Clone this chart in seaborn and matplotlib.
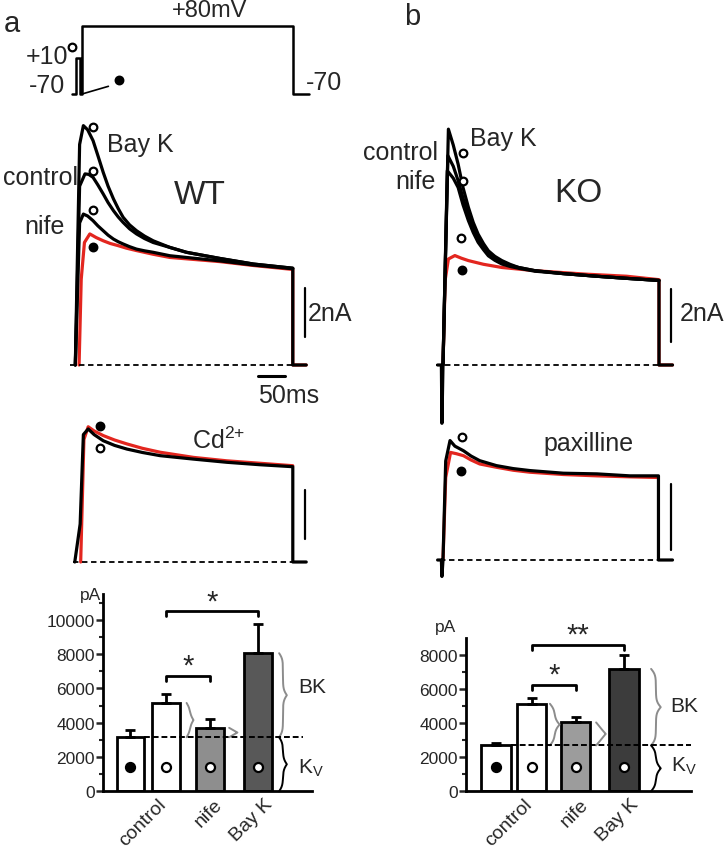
import numpy as np
import pandas as pd
import matplotlib.pyplot as plt
import seaborn as sns

# voltage protocol (ms, mV)
prot_t = [-19, -11, -11, -4, -4, 0, 0, 400, 400, 430]
prot_v = [-70, -70, 10, 10, -70, -70, 80, 80, -70, -70]

# WT traces (ms, nA)
wt_bayk_t = [-5, 3, 10, 18, 28, 37, 47, 56, 66, 75, 84, 96, 109, 124, 140, 171, 202, 264, 327, 400, 400, 425]
wt_bayk_i = [0, 9.0, 9.77, 9.6, 9.16, 8.55, 7.86, 7.3, 6.78, 6.38, 6.03, 5.72, 5.48, 5.26, 5.07, 4.8, 4.6, 4.35, 4.12, 3.95, 0, 0]
wt_ctrl_t = [-5, 3, 13, 20, 28, 37, 47, 56, 66, 75, 84, 96, 109, 124, 140, 171, 202, 264, 327, 400]
wt_ctrl_i = [0, 7.3, 7.8, 7.78, 7.66, 7.35, 6.98, 6.63, 6.3, 6.04, 5.82, 5.56, 5.35, 5.16, 5.0, 4.8, 4.6, 4.35, 4.12, 3.95]
wt_nife_t = [-5, 3, 10, 18, 28, 37, 47, 56, 66, 75, 84, 96, 109, 124, 140, 171, 202, 264, 327, 400]
wt_nife_i = [0, 5.8, 6.16, 6.08, 5.89, 5.68, 5.48, 5.3, 5.14, 5.03, 4.94, 4.83, 4.73, 4.66, 4.6, 4.46, 4.39, 4.25, 4.08, 3.93]
wt_red_t = [2, 6, 12, 22, 34, 47, 60, 75, 90, 109, 140, 171, 264, 327, 400, 400, 425]
wt_red_i = [0, 3.5, 5.0, 5.35, 5.2, 5.07, 4.96, 4.87, 4.77, 4.67, 4.52, 4.39, 4.22, 4.06, 3.9, 0, 0]

# KO traces (ms, nA)
ko_bayk_t = [-10, -3, -2, 0, 10, 19, 28, 37, 47, 56, 65, 75, 84, 96, 109, 124, 140, 170, 222, 284, 340, 400, 400, 425]
ko_bayk_i = [0, 0, -2.2, 0, 8.9, 8.3, 7.58, 6.7, 5.95, 5.38, 4.94, 4.58, 4.31, 4.1, 3.94, 3.8, 3.68, 3.56, 3.45, 3.35, 3.27, 3.19, 0, 0]
ko_ctrl_t = [0, 9, 19, 28, 37, 47, 56, 65, 75, 84, 96, 109, 124, 140, 170, 222, 284, 340, 400]
ko_ctrl_i = [0, 7.9, 7.5, 6.96, 6.3, 5.7, 5.2, 4.82, 4.48, 4.19, 4.0, 3.87, 3.76, 3.68, 3.56, 3.45, 3.35, 3.27, 3.19]
ko_nife_t = [0, 8, 19, 28, 37, 47, 56, 65, 75, 84, 96, 109, 124, 140, 170, 222, 284, 340, 400]
ko_nife_i = [0, 7.33, 7.05, 6.7, 6.05, 5.45, 5.0, 4.63, 4.35, 4.12, 3.95, 3.81, 3.72, 3.65, 3.54, 3.45, 3.35, 3.27, 3.19]
ko_red_t = [0, 4, 10, 22, 34, 47, 75, 109, 170, 263, 340, 400, 400, 425]
ko_red_i = [0, 3.2, 4.0, 4.13, 4.03, 3.94, 3.8, 3.68, 3.56, 3.43, 3.35, 3.22, 0, 0]

# Cd2+ (WT) and paxilline (KO) traces
cd_blk_t = [-6, 4, 10, 19, 30, 47, 68, 91, 120, 153, 215, 277, 339, 400, 400, 425]
cd_blk_i = [0, 1.55, 5.2, 5.43, 5.2, 4.95, 4.76, 4.61, 4.47, 4.34, 4.2, 4.07, 3.97, 3.89, 0, 0]
cd_red_t = [5, 11, 19, 30, 47, 68, 91, 120, 153, 215, 277, 339, 400]
cd_red_i = [0, 5.0, 5.52, 5.35, 5.16, 4.98, 4.82, 4.64, 4.48, 4.27, 4.13, 4.03, 3.93]
pax_blk_t = [-10, -3, -2, 0, 5, 13, 22, 38, 52, 68, 99, 130, 161, 223, 285, 346, 399, 399, 425]
pax_blk_i = [0, 0, -0.5, 0, 3.0, 3.62, 3.45, 3.31, 3.15, 3.01, 2.86, 2.77, 2.71, 2.63, 2.61, 2.55, 2.55, 0, 0]
pax_red_t = [0, 5, 14, 25, 38, 52, 68, 99, 130, 161, 223, 285, 346, 399]
pax_red_i = [0, 2.5, 3.26, 3.22, 3.16, 3.03, 2.91, 2.81, 2.72, 2.66, 2.59, 2.55, 2.52, 2.5]

# summary bars (pA)
tick_labels = ['control', 'nife', 'Bay K']
wt_mean = [3150, 5150, 3700, 8050]
wt_sem = [420, 520, 520, 1700]
ko_mean = [2700, 5150, 4050, 7200]
ko_sem = [150, 350, 330, 800]

sns.set_theme(style='white')
plt.rcParams['font.family'] = ['Liberation Sans', 'DejaVu Sans']
plt.rcParams['mathtext.fontset'] = 'custom'
plt.rcParams['mathtext.rm'] = 'Liberation Sans'
plt.rcParams['mathtext.it'] = 'Liberation Sans:italic'

W, H = 726, 853
fig = plt.figure(figsize=(W / 100, H / 100), dpi=100)
RED = '#e3261f'
GRAY = '#8c8c8c'


def px_axes(l, r, t, b):
    ax = fig.add_axes([l / W, 1 - b / H, (r - l) / W, (b - t) / H])
    ax.patch.set_alpha(0)
    return ax


def calib(ax, box, x0, pxx, y0, pxy):
    l, r, t, b = box
    ax.set_xlim((l - x0) / pxx, (r - x0) / pxx)
    ax.set_ylim((y0 - b) / pxy, (y0 - t) / pxy)
    ax.axis('off')


def ftext(x, y, s, size=18, **kw):
    fig.text(x / W, 1 - y / H, s, fontsize=size, va='center', **kw)


def trace(ax, t, i, color='black', lw=2.3):
    sns.lineplot(x=t, y=i, color=color, lw=lw, sort=False, estimator=None, ax=ax)


def dots(ax, t, i, filled):
    ax.plot(t, i, 'o', ms=5.5, mew=1.6, mec='black',
            mfc='black' if filled else 'white', zorder=5, clip_on=False)


# ---- voltage protocol ----
box = (40, 360, 0, 110)
ax = px_axes(*box)
sns.lineplot(x=prot_t, y=prot_v, color='black', lw=1.8, sort=False, estimator=None, ax=ax)
ax.plot([0, 50], [-70, -53], color='black', lw=1.2)
dots(ax, [-19.5], [33], False)
dots(ax, [70.6], [-39], True)
calib(ax, box, 82, 0.528, 63.3, 0.453)
ftext(210, 11, '+80mV', size=17, ha='center')
ftext(68, 57, '+10', ha='right')
ftext(65, 86, '-70', ha='right')
ftext(306, 83, '-70', ha='left')

# ---- WT traces ----
box = (40, 360, 112, 400)
ax = px_axes(*box)
trace(ax, wt_red_t, wt_red_i, RED)
for t, i in [(wt_nife_t, wt_nife_i), (wt_ctrl_t, wt_ctrl_i), (wt_bayk_t, wt_bayk_i)]:
    trace(ax, t, i)
ax.plot([-15, 423], [0, 0], color='black', lw=1.3, ls=(0, (3, 2)))
ax.plot([423, 423], [1.14, 3.14], color='black', lw=1.6)
ax.plot([335, 385], [-0.44, -0.44], color='black', lw=2.2)
dots(ax, [28.5, 28.5, 28.5], [9.7, 7.93, 6.34], False)
dots(ax, [28.5], [4.8], True)
calib(ax, box, 78, 0.537, 366, 24.5)
ftext(78, 178, 'control', ha='right')
ftext(65, 227, 'nife', ha='right')
ftext(107, 145, 'Bay K', ha='left')
ftext(200, 195, 'WT', size=24, ha='center')
ftext(308, 314, '2nA', ha='left')
ftext(258, 396, '50ms', ha='left')

# ---- KO traces ----
box = (400, 726, 112, 440)
ax = px_axes(*box)
trace(ax, ko_red_t, ko_red_i, RED)
for t, i in [(ko_nife_t, ko_nife_i), (ko_ctrl_t, ko_ctrl_i), (ko_bayk_t, ko_bayk_i)]:
    trace(ax, t, i)
ax.plot([-13.5, 422], [0, 0], color='black', lw=1.3, ls=(0, (3, 2)))
ax.plot([422, 422], [0.87, 2.87], color='black', lw=1.6)
dots(ax, [37.6, 37.6, 33.3], [7.99, 6.95, 4.8], False)
dots(ax, [35], [3.58], True)
calib(ax, box, 443, 0.54, 366, 26.5)
ftext(438, 153, 'control', ha='right')
ftext(436, 182, 'nife', ha='right')
ftext(470, 139, 'Bay K', ha='left')
ftext(578, 194, 'KO', size=24, ha='center')
ftext(680, 314, '2nA', ha='left')

# ---- Cd2+ ----
box = (40, 360, 415, 580)
ax = px_axes(*box)
trace(ax, cd_red_t, cd_red_i, RED)
trace(ax, cd_blk_t, cd_blk_i)
ax.plot([-9, 423], [0, 0], color='black', lw=1.3, ls=(0, (3, 2)))
ax.plot([423, 423], [0.94, 2.94], color='black', lw=1.6)
dots(ax, [41], [5.56], True)
dots(ax, [41], [4.65], False)
calib(ax, box, 78, 0.537, 563, 24.5)
ftext(192, 441, 'Cd$^{2{+}}$', ha='left')

# ---- paxilline ----
box = (400, 726, 415, 585)
ax = px_axes(*box)
trace(ax, pax_red_t, pax_red_i, RED)
trace(ax, pax_blk_t, pax_blk_i)
ax.plot([-5.5, 420], [0, 0], color='black', lw=1.3, ls=(0, (3, 2)))
ax.plot([421.7, 421.7], [0.3, 2.3], color='black', lw=1.6)
dots(ax, [34.6], [3.72], False)
dots(ax, [32.7], [2.71], True)
calib(ax, box, 443, 0.54, 561, 33)
ftext(543, 444, 'paxilline', ha='left')


# ---- bar charts ----
def brace(ax, x, y0, y1, w, color, beta):
    s = np.linspace(0, 0.5, 120)
    half = 1 / (1 + np.exp(-beta * (s - s[0]))) + 1 / (1 + np.exp(-beta * (s - s[-1])))
    shape = np.concatenate([half, half[::-1]])
    shape = (shape - shape.min()) / (shape.max() - shape.min())
    ys = y0 + (y1 - y0) * np.concatenate([s, s + 0.5])
    ax.plot(x + w * shape, ys, color=color, lw=1.4, clip_on=False)


def bracket(ax, x0, x1, y, drop, label, ly):
    ax.plot([x0, x0, x1, x1], [y - drop, y, y, y - drop], color='black', lw=2, clip_on=False)
    ax.text((x0 + x1) / 2, ly, label, ha='center', va='center', fontsize=21)


def bar_panel(box, c0, unit, top, mean, sem, colors, major, braces, sigs, bk_y, kv_y, pa_y, bw):
    ax = px_axes(*box)
    pos = [0, 1.3, 2.9, 4.65]
    df = pd.DataFrame({'pos': pos, 'pA': mean})
    sns.barplot(data=df, x='pos', y='pA', native_scale=True, width=bw / 1.3,
                errorbar=None, edgecolor='black', linewidth=2, ax=ax)
    for p, c in zip(ax.patches, colors):
        p.set_facecolor(c)
    ax.errorbar(pos, mean, yerr=[np.zeros(4), sem], fmt='none', ecolor='black',
                elinewidth=2, capsize=3.5, capthick=2, zorder=4)
    ax.plot([pos[0] + bw / 2, 6.3 if top > 10000 else 7.1], [mean[0], mean[0]],
            color='black', lw=1.4, ls=(0, (3, 1.5)), zorder=3, clip_on=False)
    for i, filled in enumerate([True, False, False, False]):
        ax.plot(pos[i], 1420, 'o', ms=6.5, mew=1.6, mec='black',
                mfc='black' if filled else 'white', zorder=5)
    vpp = top / (box[3] - box[2])
    for x, y0, y1, w, col in braces:
        brace(ax, x, y0, y1, w, col, max(6, (y1 - y0) / vpp / 3))
    for x0, x1, y, label, ly in sigs:
        bracket(ax, pos[x0], pos[x1], y, 17 * vpp / 3 * 0.9, label, ly)
    ax.text(6.1 if top > 10000 else 6.33, bk_y, 'BK', fontsize=15, va='center')
    ax.text(6.1 if top > 10000 else 6.36, kv_y, 'K$_\\mathrm{V}$', fontsize=15, va='center')
    ax.text(-1.43 if top > 10000 else -1.82, pa_y, 'pA', fontsize=12.5, ha='center', va='center')
    ax.set_xlim((box[0] - c0) / unit, (box[1] - c0) / unit)
    ax.set_ylim(0, top)
    ax.set_yticks(major)
    ax.set_yticks(np.arange(1000, top, 2000), minor=True)
    ax.set_yticklabels([str(v) for v in major], fontsize=12.5)
    ax.set_xticks([1.0, 3.05, 4.85])
    ax.set_xticklabels(tick_labels, rotation=45, ha='right', rotation_mode='anchor', fontsize=14)
    ax.tick_params(axis='y', which='major', direction='out', length=5, width=1.8, pad=1, left=True)
    ax.tick_params(axis='y', which='minor', direction='out', length=3, width=1.5, left=True)
    ax.tick_params(axis='x', length=0, pad=3)
    ax.set_xlabel('')
    ax.set_ylabel('')
    sns.despine(ax=ax)
    for s in ['left', 'bottom']:
        ax.spines[s].set_linewidth(2)
        ax.spines[s].set_color('black')
    return ax


bar_panel((103.3, 312, 595, 792.3), 130.3, 27.46, 11500, wt_mean, wt_sem,
          ['white', 'white', '#8e8e8e', '#585858'], list(range(0, 10001, 2000)),
          [(2.05, 3150, 5150, 0.25, GRAY), (3.6, 3150, 3700, 0.3, GRAY),
           (5.42, 3150, 8050, 0.28, GRAY), (5.42, 0, 3150, 0.28, 'black')],
          [(1, 2, 6740, '*', 7300), (1, 3, 10490, '*', 11050)],
          6080, 1415, 11450, 1.0)

bar_panel((466.3, 691, 639.3, 792.3), 496, 27.5, 9000, ko_mean, ko_sem,
          ['white', 'white', '#9c9c9c', '#3c3c3c'], list(range(0, 8001, 2000)),
          [(1.96, 2700, 5150, 0.35, GRAY), (3.64, 2700, 4050, 0.35, GRAY),
           (5.64, 2700, 7200, 0.35, GRAY), (5.64, 0, 2700, 0.35, 'black')],
          [(1, 2, 6240, '*', 6850), (1, 3, 8590, '**', 9200)],
          5025, 1500, 9720, 1.07)

ftext(12, 24, 'a', size=21, ha='center')
ftext(412, 17, 'b', size=21, ha='center')

fig.savefig('out.png', dpi=100)
